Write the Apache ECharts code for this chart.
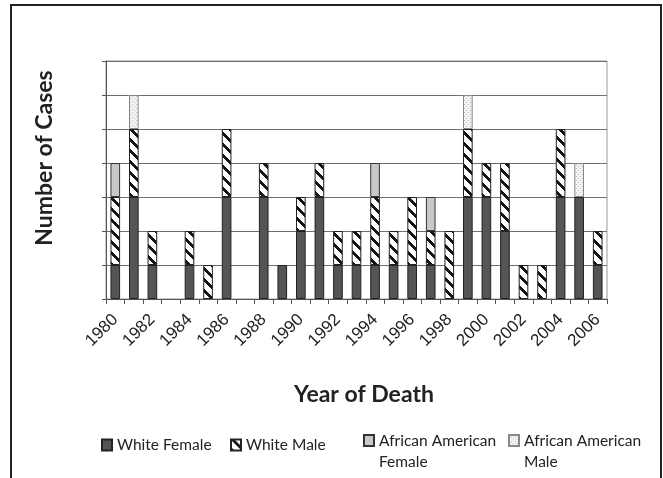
<!DOCTYPE html>
<html>
<head>
<meta charset="utf-8">
<script src="https://cdn.jsdelivr.net/npm/echarts@6/dist/echarts.min.js"></script>
<style>
  html, body { margin: 0; padding: 0; background: #fff; }
  #chart { width: 663px; height: 478px; }
</style>
</head>
<body>
<div id="chart"></div>
<script>
// Deaths per year, split by race and sex
const years = ['1980','1981','1982','1983','1984','1985','1986','1987','1988','1989',
               '1990','1991','1992','1993','1994','1995','1996','1997','1998','1999',
               '2000','2001','2002','2003','2004','2005','2006'];
const whiteFemale = [1,3,1,0,1,0,3,0,3,1,2,3,1,1,1,1,1,1,0,3,3,2,0,0,3,3,1];
const whiteMale   = [2,2,1,0,1,1,2,0,1,0,1,1,1,1,2,1,2,1,2,2,1,2,1,1,2,0,1];
const afAmFemale  = [1,0,0,0,0,0,0,0,0,0,0,0,0,0,1,0,0,1,0,0,0,0,0,0,0,0,0];
const afAmMale    = [0,1,0,0,0,0,0,0,0,0,0,0,0,0,0,0,0,0,0,1,0,0,0,0,0,1,0];
const seriesNames = ['White Female', 'White Male', 'African American Female', 'African American Male'];

// diagonal "\" hatch fill
function hatchPattern() {
  const P = 11, W = 4;
  const c = document.createElement('canvas');
  c.width = P; c.height = P;
  const ctx = c.getContext('2d');
  const img = ctx.createImageData(P, P);
  for (let y = 0; y < P; y++) {
    for (let x = 0; x < P; x++) {
      const k = (((x - y) % P) + P) % P;
      const v = k < W ? 20 : 255;
      const i = (y * P + x) * 4;
      img.data[i] = v; img.data[i + 1] = v; img.data[i + 2] = v; img.data[i + 3] = 255;
    }
  }
  ctx.putImageData(img, 0, 0);
  return { image: c, repeat: 'repeat' };
}

// sparse light stipple fill
function dotPattern() {
  const c = document.createElement('canvas');
  c.width = 4; c.height = 4;
  const ctx = c.getContext('2d');
  ctx.fillStyle = '#f2f2f2';
  ctx.fillRect(0, 0, 4, 4);
  ctx.fillStyle = '#c4c4c4';
  ctx.fillRect(0, 0, 1, 1);
  ctx.fillRect(2, 2, 1, 1);
  return { image: c, repeat: 'repeat' };
}

const fills = ['#555555', hatchPattern(), '#c8c8c8', dotPattern()];
const borders = ['#222', '#222', '#333', '#888'];
const values = [whiteFemale, whiteMale, afAmFemale, afAmMale];

const chart = echarts.init(document.getElementById('chart'), null, { renderer: 'canvas' });

const LEGEND_FONT = 15.5;
const LEGEND_LINE = 21;
function legendAt(name, left, twoLine) {
  const base = {
    data: [name],
    left: left, top: twoLine ? 443 - 1.5 * LEGEND_LINE : 437,
    icon: 'rect',
    itemWidth: 10, itemHeight: 11, itemGap: 0,
    orient: 'horizontal',
    padding: 0,
    selectedMode: false,
    textStyle: { fontFamily: 'Lato', fontSize: LEGEND_FONT, color: '#222' }
  };
  if (twoLine) {
    // empty first row keeps the icon level with the first line of the name
    const parts = name.split(' ');
    const last = parts.pop();
    base.formatter = function () {
      return '{s| }\n{t|' + parts.join(' ') + '}\n{t|' + last + '}';
    };
    base.textStyle.rich = {
      s: { lineHeight: LEGEND_LINE, fontSize: LEGEND_FONT, fontFamily: 'Lato' },
      t: { lineHeight: LEGEND_LINE, fontSize: LEGEND_FONT, fontFamily: 'Lato', color: '#222' }
    };
  }
  return base;
}

const option = {
  backgroundColor: '#fff',
  animation: false,
  grid: {
    left: 106, right: 56, top: 61, bottom: 179,
    show: true, borderColor: '#999', borderWidth: 1, backgroundColor: 'transparent'
  },
  graphic: [{
    type: 'rect',
    shape: { x: 11, y: 5, width: 650, height: 490 },
    style: { fill: 'none', stroke: '#222', lineWidth: 2 },
    silent: true
  }],
  legend: [
    legendAt(seriesNames[0], 101, false),
    legendAt(seriesNames[1], 230, false),
    legendAt(seriesNames[2], 363, true),
    legendAt(seriesNames[3], 508, true)
  ],
  xAxis: {
    type: 'category',
    data: years,
    name: 'Year of Death',
    nameLocation: 'middle',
    nameGap: 84,
    nameTextStyle: { fontFamily: 'Lato', fontWeight: 'bold', fontSize: 23, color: '#222', padding: [0, 0, 0, 15] },
    axisLine: { lineStyle: { color: '#555', width: 1 } },
    axisTick: { show: true, interval: 0, alignWithLabel: false, length: 5, lineStyle: { color: '#555' } },
    axisLabel: {
      interval: 1, rotate: 45, margin: 18,
      fontFamily: 'Liberation Sans', fontSize: 17, color: '#222'
    },
    splitLine: { show: false }
  },
  yAxis: {
    type: 'value',
    min: 0, max: 7, interval: 1,
    name: 'Number of Cases',
    nameLocation: 'middle',
    nameGap: 50,
    nameRotate: 90,
    nameTextStyle: { fontFamily: 'Lato', fontWeight: 'bold', fontSize: 23, color: '#222', padding: [0, 0, 0, 44] },
    axisLine: { show: true, lineStyle: { color: '#555', width: 1 } },
    axisTick: { show: true, length: 4, lineStyle: { color: '#555' } },
    axisLabel: { show: false },
    splitLine: { show: true, lineStyle: { color: '#6f6f6f', width: 1 } }
  },
  series: seriesNames.map(function (name, k) {
    return {
      name: name,
      type: 'bar',
      stack: 'cases',
      barWidth: '52%',
      data: values[k].map(function (v) { return v === 0 ? '-' : v; }),
      itemStyle: { color: fills[k], borderColor: borders[k], borderWidth: 1 },
      emphasis: { disabled: true }
    };
  })
};

chart.setOption(option);
</script>
</body>
</html>
